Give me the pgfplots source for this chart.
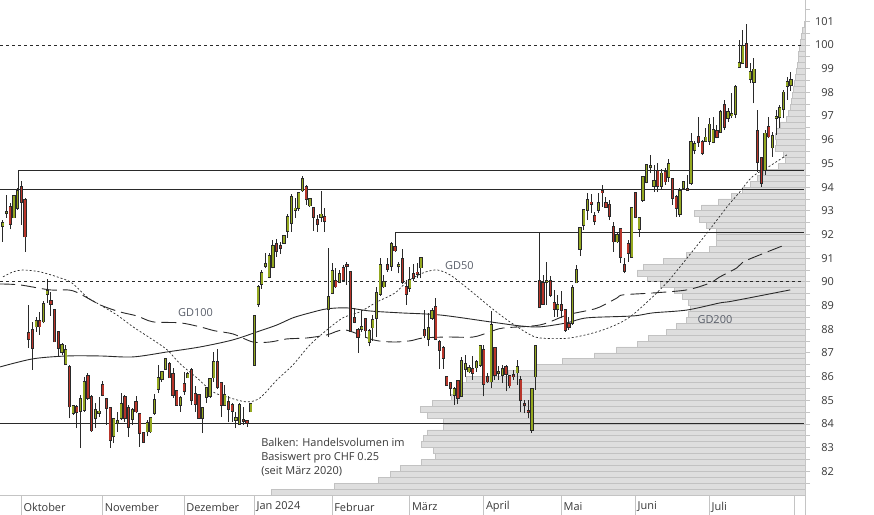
\documentclass[border=0pt]{standalone}
\usepackage{pgfplots}
\pgfplotsset{compat=1.18}
\usepackage{pgfplotstable}
\usepackage{fontspec}
\setmainfont{Open Sans}
\definecolor{cgreen}{HTML}{94A820}
\definecolor{cred}{HTML}{B8352A}
\definecolor{cdark}{HTML}{2A2A2A}
\definecolor{volfill}{HTML}{DEDEDE}
\definecolor{voledge}{HTML}{C2C2C2}
\definecolor{axgray}{HTML}{C4C4C4}
\definecolor{labgray}{HTML}{383838}
\definecolor{gdgray}{HTML}{5A5F6A}

\pgfplotstableread{
i O H L C
1 92.36 92.61 91.69 92.49
2 92.89 93.67 92.70 92.95
4 92.71 93.67 92.70 93.64
5 93.13 93.95 93.04 93.84
10 88.11 88.53 87.90 88.35
12 88.32 89.17 88.25 89.06
13 89.48 90.12 89.10 89.62
17 87.03 87.41 86.92 87.32
18 86.52 87.34 86.49 87.11
20 84.45 84.81 84.38 84.75
22 84.55 85.23 82.98 85.05
23 84.59 86.00 84.52 85.76
26 84.24 84.88 83.82 84.58
27 84.47 85.13 84.29 84.53
31 83.47 84.24 83.19 84.20
32 84.03 84.50 83.68 84.13
33 84.24 85.32 84.16 84.85
36 84.20 84.67 83.96 84.59
40 83.68 84.17 83.47 84.03
41 83.68 84.31 83.61 84.24
42 84.45 85.26 84.38 85.02
43 85.47 86.49 85.30 85.93
44 85.89 86.21 85.79 86.19
45 86.31 86.78 86.28 86.73
49 84.81 85.16 84.52 85.09
51 85.96 86.21 85.93 86.11
55 84.24 84.73 83.61 84.69
56 85.13 85.58 84.88 85.51
57 85.16 85.93 85.09 85.89
58 85.96 87.05 85.79 86.63
61 84.81 85.65 84.78 85.23
64 84.17 84.52 83.82 84.24
65 84.00 84.88 83.96 84.81
68 84.52 84.88 84.50 84.83
69 86.49 88.60 86.46 88.57
70 89.06 89.87 88.95 89.80
71 89.91 90.50 89.70 90.36
72 90.67 91.21 90.57 90.76
73 90.20 91.21 90.15 91.11
74 90.62 91.77 90.57 91.52
77 91.63 91.98 91.59 91.94
78 92.16 92.85 91.87 92.73
79 92.47 93.70 92.12 93.57
80 93.04 93.53 92.71 93.10
81 93.13 93.77 93.01 93.74
82 93.85 94.48 93.81 94.34
84 93.22 93.53 93.18 93.50
87 92.75 93.84 92.54 92.85
89 88.84 91.44 87.65 89.35
90 89.52 90.81 89.48 90.47
92 89.98 90.50 89.94 90.32
98 88.01 88.81 87.90 88.08
100 87.45 88.01 87.27 87.94
101 88.07 88.60 87.51 88.39
102 88.46 89.77 87.69 89.52
103 89.48 91.02 89.42 90.71
104 89.80 90.29 89.73 89.98
106 90.68 91.67 90.46 91.59
108 90.65 90.85 90.36 90.71
111 89.73 90.64 89.59 90.08
114 90.60 91.02 90.15 91.00
116 87.58 88.68 87.27 88.04
117 88.46 88.89 88.39 88.77
123 85.23 85.55 84.81 85.49
125 85.16 86.84 85.16 86.66
126 86.32 86.92 85.99 86.54
127 86.21 86.49 86.14 86.35
129 86.38 86.70 86.21 86.61
130 86.49 87.34 86.42 87.31
133 85.79 88.77 85.51 88.18
135 86.13 86.45 85.86 86.20
136 86.07 86.49 85.73 86.32
140 86.17 86.70 85.65 86.42
144 83.75 85.51 83.61 85.48
145 86.00 87.34 85.44 87.31
148 89.98 90.83 89.03 90.04
151 88.84 89.45 88.53 89.03
155 88.25 89.87 88.18 89.76
156 89.97 90.71 89.94 90.50
157 91.38 92.33 91.09 92.26
158 92.40 93.07 92.19 93.04
159 93.04 93.74 92.61 93.46
162 93.04 93.74 92.90 93.32
167 91.70 92.05 91.63 91.98
171 91.06 93.15 91.04 93.11
173 92.22 92.75 91.91 92.69
174 93.46 94.44 93.39 94.42
175 94.21 94.98 94.16 94.94
176 94.83 95.36 94.58 94.89
177 94.06 94.94 93.81 94.26
179 94.06 94.77 93.88 94.58
181 94.44 95.19 94.23 94.97
184 92.85 93.95 92.75 93.85
185 93.95 94.26 93.88 94.23
187 94.16 96.27 94.09 95.92
188 95.57 95.95 95.39 95.81
191 95.96 96.48 95.92 96.10
192 95.95 96.91 95.78 96.65
193 95.89 96.97 95.85 96.41
195 96.34 97.26 96.32 97.16
197 96.91 97.33 96.76 97.16
198 97.02 97.96 96.91 97.08
199 97.08 98.31 96.91 98.24
200 99.06 100.21 99.04 99.23
201 99.23 100.63 99.22 99.97
203 98.55 99.23 98.38 98.85
204 98.45 99.44 97.54 98.97
207 94.72 96.41 94.51 96.27
209 95.67 96.34 95.29 96.17
210 96.90 97.26 96.20 96.96
211 96.95 97.47 96.48 97.35
212 97.29 98.10 96.91 98.00
213 98.28 98.66 97.68 98.43
214 98.31 98.87 98.06 98.52
}\greentab

\pgfplotstableread{
i O H L C
3 93.15 93.32 92.22 92.43
6 94.02 94.26 92.40 93.36
7 93.46 93.53 91.28 91.91
8 87.83 89.03 87.20 87.59
9 87.97 88.32 86.28 87.20
11 88.35 88.74 87.76 88.11
14 89.19 89.59 88.57 89.06
15 88.80 88.81 87.46 87.48
16 87.87 87.90 86.84 87.20
19 86.41 86.49 84.24 84.73
21 84.72 84.78 83.82 84.50
24 86.02 86.14 85.02 85.09
25 85.13 85.23 83.67 83.72
28 85.64 85.82 85.16 85.23
29 85.05 85.11 83.96 84.67
30 84.67 84.73 83.00 83.31
34 85.13 85.23 84.10 84.24
35 84.69 84.81 83.44 83.86
37 84.94 85.19 84.45 84.52
38 84.41 84.45 83.04 83.61
39 83.61 83.68 83.19 83.23
46 86.52 86.63 85.93 85.96
47 86.10 86.35 85.09 85.23
48 85.40 85.44 84.78 84.81
50 85.69 86.21 85.23 85.37
52 86.28 86.35 84.81 85.02
53 85.26 85.62 84.52 84.85
54 85.23 85.26 84.21 84.24
59 86.63 87.17 85.48 85.54
60 85.72 85.79 84.31 84.81
62 84.92 85.16 84.10 84.64
63 84.81 84.88 84.10 84.55
66 84.17 84.73 83.96 84.11
67 84.13 84.17 83.89 84.03
75 91.60 91.81 91.06 91.31
76 91.52 91.70 91.17 91.44
83 94.02 94.09 93.25 93.49
85 93.11 93.13 92.15 92.73
86 92.61 92.82 92.12 92.43
88 92.73 93.13 92.12 92.57
91 90.05 90.57 89.73 89.80
93 90.60 90.71 90.01 90.07
94 90.71 90.83 89.87 90.65
95 90.41 90.46 87.90 87.93
96 88.46 88.91 88.25 88.30
97 87.97 88.04 87.01 87.65
99 88.43 88.46 87.62 87.94
105 90.71 91.02 90.43 90.53
107 91.46 91.70 91.28 91.32
109 90.97 91.39 89.90 89.98
110 89.80 90.08 89.03 89.48
112 90.32 90.74 90.04 90.15
113 90.40 90.79 90.15 90.33
115 87.97 88.81 87.62 87.73
118 88.95 89.31 87.55 87.58
119 87.48 87.55 86.32 87.13
120 87.20 87.27 86.32 86.78
121 85.97 86.00 85.62 85.65
122 85.72 85.79 85.16 85.51
124 85.82 85.86 84.83 85.09
128 86.32 86.87 85.86 86.16
131 87.13 87.34 85.16 85.68
132 85.97 86.14 85.72 85.79
134 87.20 87.20 85.86 86.07
137 86.42 86.49 85.37 86.10
138 86.04 86.07 85.51 85.62
139 86.07 86.28 85.86 86.00
141 85.86 86.03 84.52 84.99
142 84.83 85.02 84.45 84.78
143 84.55 85.02 84.24 84.49
146 90.04 92.05 88.89 88.95
147 89.94 90.29 89.03 89.07
149 90.05 90.25 89.38 89.45
150 89.10 89.66 88.53 88.84
152 89.03 89.63 88.46 88.81
153 88.81 88.84 87.90 87.97
154 88.22 88.53 87.97 88.08
160 93.35 93.71 92.90 93.29
161 92.78 92.96 92.40 92.58
163 93.84 94.09 93.18 93.77
164 93.32 93.57 93.11 93.15
165 93.25 93.46 92.61 92.78
166 92.33 92.54 91.28 91.70
168 92.22 92.26 90.79 91.06
169 90.71 91.00 90.36 90.47
170 91.60 91.77 90.85 91.21
172 93.74 93.81 92.69 92.73
178 94.69 95.01 93.81 94.06
180 94.63 94.80 94.09 94.23
182 94.33 94.37 93.25 93.53
183 93.57 93.67 92.73 93.13
186 93.94 94.51 93.87 93.89
189 96.13 96.97 95.71 95.89
190 95.92 95.99 95.36 95.43
194 96.37 96.62 96.06 96.10
196 97.47 97.68 96.41 96.55
202 100.03 100.87 99.02 99.06
205 96.37 97.26 94.65 95.05
206 95.22 95.29 94.02 94.16
208 96.55 96.97 96.06 96.13
}\redtab

\pgfplotstableread{
y x
81.125 -533.3
81.375 -471
81.625 -426.7
81.875 -414.3
82.125 -405
82.375 -383.7
82.625 -369.7
82.875 -371.7
83.125 -383.7
83.375 -381.7
83.625 -377.7
83.875 -361.7
84.125 -362
84.375 -377.7
84.625 -384.5
84.875 -372.5
85.125 -353.3
85.375 -350
85.625 -345
85.875 -339
86.125 -297
86.375 -268.3
86.625 -242.7
86.875 -211
87.125 -188.3
87.375 -167.7
87.625 -156.7
87.875 -138.3
88.125 -128.3
88.375 -119
88.625 -116.7
88.875 -115
89.125 -116.7
89.375 -122.3
89.625 -131
89.875 -145
90.125 -157.7
90.375 -167.7
90.625 -161.7
90.875 -141.7
91.125 -118.3
91.375 -95.7
91.625 -89
91.875 -89
92.125 -88.3
92.375 -98.3
92.625 -105.7
92.875 -111
93.125 -103.3
93.375 -86.7
93.625 -73.3
93.875 -62.3
94.125 -55
94.375 -47.7
94.625 -41.7
94.875 -26.7
95.125 -20
95.375 -21.7
95.625 -29.7
95.875 -29
96.125 -29.7
96.375 -29
96.625 -25
96.875 -19
97.125 -16.7
97.375 -15
97.625 -13.3
97.875 -12.3
98.125 -11.3
98.375 -10.7
98.625 -9.7
98.875 -8.3
99.125 -7.7
99.375 -6.7
99.625 -6.3
99.875 -5.7
100.125 -5
100.375 -4
100.625 -2.3
100.875 -1
}\voltab

\pgfplotstableread{
i p
1.05 90.21
3.76 90.42
6.46 90.50
11.05 90.42
16.46 90.17
19.7 89.95
23.76 89.36
27.27 89.03
31.86 88.60
36.19 88.10
40.8 87.63
45.4 87.13
48.9 86.54
53.5 85.94
57.8 85.35
62.4 85.10
67.0 84.93
70.5 85.10
75.1 85.86
79.4 86.49
84.0 87.34
88.6 87.97
92.9 88.48
97.5 88.73
102.1 89.15
107.0 89.53
110.2 90.00
114.6 90.38
118.4 90.50
121.9 90.29
126.5 89.74
132.7 88.94
137.3 88.39
142.7 87.84
146.2 87.63
154.3 87.63
163.2 87.97
170.5 88.52
179.4 89.79
184.0 90.63
191.3 92.06
196.7 93.16
200.2 93.80
203.5 94.43
208.3 94.89
212.9 95.36
}\gdfifty

\pgfplotstableread{
i p
0.3 89.91
5.65 89.87
13.76 89.66
19.97 89.62
27.27 89.03
32.67 88.73
37.27 88.56
41.6 88.31
48.9 88.27
54.3 88.10
58.35 87.93
63.2 87.80
68.6 87.46
73.2 87.46
77.8 87.59
83.2 87.63
88.6 87.76
93.5 87.97
101.1 87.55
106.5 87.46
111.1 87.51
114.6 87.63
121.1 87.67
128.1 87.67
132.7 87.89
136.2 88.05
146.2 88.18
153.5 88.60
159.7 88.81
162.4 88.94
167.0 89.32
168.6 89.45
176.7 89.53
185.9 89.66
192.1 89.95
194.8 90.21
199.4 90.59
201.1 90.84
205.6 91.14
212.4 91.56
}\gdhundred

\pgfplotstableread{
i p
0.3 86.41
9.16 86.75
18.35 86.87
27.27 86.87
36.19 86.83
45.4 87.04
54.3 87.25
63.2 87.55
70.5 87.93
75.1 88.18
79.4 88.48
84.0 88.69
88.6 88.86
94.0 88.90
100.2 88.77
108.4 88.69
119.2 88.60
132.7 88.31
140.8 88.14
146.2 88.10
153.5 88.27
158.9 88.48
171.3 88.56
176.7 88.69
185.9 88.81
194.8 89.11
198.3 89.19
213.8 89.66
}\gdtwohundred

\pgfplotsset{candle/.style={draw=none, mark=none, forget plot,
  error bars/y dir=plus, error bars/y explicit, error bars/error mark=none}}

\begin{document}
\begin{tikzpicture}
% volume profile + right price axis
\begin{axis}[name=vol, at={(0,0)}, anchor=south west, scale only axis,
  width=805bp, height=495bp,
  xmin=-805, xmax=0, ymin=81, ymax=101.9,
  hide x axis, axis y line*=right,
  axis line style={draw=axgray, line width=0.8bp},
  ytick={82,83,...,101}, minor ytick={81.5,82.5,...,101.5},
  tick align=outside, major tick length=5bp, minor tick length=5bp,
  tick style={draw=axgray, line width=0.8bp},
  /pgf/number format/assume math mode=true,
  yticklabel style={font=\fontsize{11}{13}\selectfont, text=labgray, anchor=east, inner sep=0pt, xshift=24bp},
  ]
\addplot[xbar, bar width=0.25, fill=volfill, draw=voledge, line width=0.7bp] table[x=x, y=y] {\voltab};
\end{axis}

% price chart
\begin{axis}[name=main, at={(0,0)}, anchor=south west, scale only axis,
  width=805bp, height=495bp,
  xmin=0.243, xmax=217.8, ymin=81, ymax=101.9,
  hide y axis, axis x line*=bottom,
  axis line style={draw=axgray, line width=0.8bp},
  xtick={6,28,50,69,90,111,131,152,172,192,215,217.8},
  xticklabels={Oktober,November,Dezember,Jan 2024,Februar,März,April,Mai,Juni,Juli,,},
  tick align=outside, major tick length=20bp,
  xtick style={draw=axgray, line width=0.8bp},
  xticklabel style={font=\fontsize{11}{13}\selectfont, text=labgray, anchor=west, inner sep=0pt, xshift=2bp, yshift=8bp},
  ]
% reference lines
\addplot[cdark, line width=0.9bp, dash pattern=on 3bp off 3bp] coordinates {(0.243,100) (217.5,100)};
\addplot[cdark, line width=0.9bp, dash pattern=on 3bp off 3bp] coordinates {(0.243,90) (217.5,90)};
\addplot[cdark, line width=1bp] coordinates {(5.19,93.90) (5.19,94.72) (217.5,94.72)};
\addplot[cdark, line width=1bp] coordinates {(0.243,93.90) (217.5,93.90)};
\addplot[cdark, line width=1bp] coordinates {(107,91.46) (107,92.10) (217.5,92.10)};
\addplot[cdark, line width=1bp] coordinates {(0.243,84.0) (217.5,84.0)};
% moving averages
\addplot[cdark, line width=0.7bp, dash pattern=on 2bp off 2bp, smooth, tension=0.5] table[x=i, y=p] {\gdfifty};
\addplot[cdark, line width=0.9bp, dash pattern=on 15bp off 6bp, smooth, tension=0.5] table[x=i, y=p] {\gdhundred};
\addplot[cdark, line width=0.9bp, smooth, tension=0.5] table[x=i, y=p] {\gdtwohundred};
% wicks
\addplot[candle, error bars/error bar style={draw=cdark, line width=0.9bp, solid}]
  table[x=i, y=L, y error expr=\thisrow{H}-\thisrow{L}] {\greentab};
\addplot[candle, error bars/error bar style={draw=cdark, line width=0.9bp, solid}]
  table[x=i, y=L, y error expr=\thisrow{H}-\thisrow{L}] {\redtab};
% body outlines
\addplot[candle, error bars/error bar style={draw=cdark, line width=3.2bp, solid}]
  table[x=i, y expr=\thisrow{O}-0.035, y error expr=\thisrow{C}-\thisrow{O}+0.07] {\greentab};
\addplot[candle, error bars/error bar style={draw=cdark, line width=3.2bp, solid}]
  table[x=i, y expr=\thisrow{C}-0.035, y error expr=\thisrow{O}-\thisrow{C}+0.07] {\redtab};
% body fills
\addplot[candle, error bars/error bar style={draw=cgreen, line width=1.6bp, solid}]
  table[x=i, y=O, y error expr=\thisrow{C}-\thisrow{O}] {\greentab};
\addplot[candle, error bars/error bar style={draw=cred, line width=1.6bp, solid}]
  table[x=i, y=C, y error expr=\thisrow{O}-\thisrow{C}] {\redtab};
% labels
\node[anchor=west, inner sep=0pt, text=gdgray, font=\fontsize{11}{13}\selectfont] at (axis cs:48.35,88.72) {GD100};
\node[anchor=west, inner sep=0pt, text=gdgray, font=\fontsize{11}{13}\selectfont] at (axis cs:120.5,90.67) {GD50};
\node[anchor=west, inner sep=0pt, text=gdgray, font=\fontsize{11}{13}\selectfont] at (axis cs:188.7,88.42) {GD200};
\node[anchor=west, align=left, inner sep=0pt, text=labgray, font=\fontsize{11}{14}\selectfont] at (axis cs:70.8,82.61) {Balken: Handelsvolumen im\\Basiswert pro CHF 0.25\\(seit März 2020)};
\end{axis}
\pgfresetboundingbox
\path[use as bounding box] (0,-20bp) rectangle (874bp,495bp);
\end{tikzpicture}
\end{document}
